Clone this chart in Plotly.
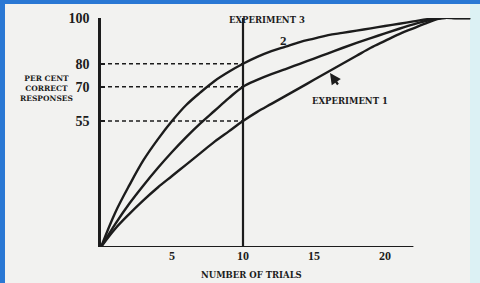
import plotly.graph_objects as go

# ---- data ----
trials = list(range(0, 27))
exp2 = [0, 15, 27, 38, 47, 55, 62, 67.5, 72.5, 76.5, 80, 83, 85.5, 87.5, 89.5, 91,
        92.5, 93.5, 94.5, 95.5, 96.5, 97.5, 98.5, 99.5, 100, 100, 100]
mid = [0, 10, 19, 27, 34.5, 41.5, 48, 54, 59.5, 65, 70, 73, 75.5, 77.7, 80, 82.3,
       84.6, 86.9, 89.1, 91.2, 93.3, 95.3, 97.2, 98.9, 100, 100, 100]
exp1 = [0, 8, 14.5, 20.5, 26, 31, 36, 41, 46, 50.5, 55, 59, 62.5, 66, 69.5, 73,
        76.5, 80, 83.5, 87, 90, 93, 95.5, 98, 100, 100, 100]

y_ticks = [55, 70, 80, 100]
x_ticks = [5, 10, 15, 20]
x_tick_text = ["5", "10", "15", "20"]
marker_trial = 10
ref_levels = [80, 70, 55]
x_axis_end = 22

INK = "#1c1c1c"
BG = "#f2f2f0"
SERIF = "Liberation Serif"
LABEL = "DejaVu Serif"

W, H = 480, 283
L, R, T, B = 101, 4, 18, 36
pw, ph = W - L - R, H - T - B


def px(xp):
    return (xp - L) / pw


def py(yp):
    return 1 - (yp - T) / ph


fig = go.Figure()
for ys in (exp2, mid, exp1):
    fig.add_trace(go.Scatter(
        x=trials, y=ys, mode="lines",
        line=dict(color=INK, width=2.4, shape="spline", smoothing=1.0),
        cliponaxis=False, hoverinfo="skip", showlegend=False))

shapes = []
# frame decorations
shapes.append(dict(type="rect", xref="paper", yref="paper", x0=px(470), x1=px(480),
                   y0=py(283), y1=py(0), fillcolor="#dcf1f4", line_width=0, layer="below"))
shapes.append(dict(type="rect", xref="paper", yref="paper", x0=px(0), x1=px(480),
                   y0=py(4), y1=py(0), fillcolor="#2a78d4", line_width=0, layer="above"))
shapes.append(dict(type="rect", xref="paper", yref="paper", x0=px(0), x1=px(5),
                   y0=py(283), y1=py(0), fillcolor="#2a78d4", line_width=0, layer="above"))
# x axis line
shapes.append(dict(type="line", xref="x", yref="y", x0=0, x1=x_axis_end, y0=0, y1=0,
                   line=dict(color=INK, width=2.2)))
# vertical line at trial 10
shapes.append(dict(type="line", xref="x", yref="y", x0=marker_trial, x1=marker_trial,
                   y0=0, y1=100, line=dict(color=INK, width=2.2)))
# dashed reference lines
for lv in ref_levels:
    shapes.append(dict(type="line", xref="x", yref="y", x0=0, x1=marker_trial, y0=lv, y1=lv,
                       line=dict(color=INK, width=1.6, dash="4px,3px")))

font_small = dict(family=LABEL, size=8.5, color=INK, weight="bold")
annotations = [
    dict(text="EXPERIMENT 3", xref="paper", yref="paper", x=px(267), y=py(20),
         showarrow=False, font=font_small, xanchor="center", yanchor="middle"),
    dict(text="2", xref="paper", yref="paper", x=px(283), y=py(40),
         showarrow=False, font=dict(family=SERIF, size=13, color=INK, weight="bold"),
         xanchor="center", yanchor="middle"),
    dict(text="EXPERIMENT 1", xref="paper", yref="paper", x=px(350), y=py(101),
         showarrow=False, font=font_small, xanchor="center", yanchor="middle"),
    dict(text="", xref="paper", yref="paper", x=px(330), y=py(73), ax=9, ay=13,
         showarrow=True, arrowhead=2, arrowsize=1, arrowwidth=2.2, arrowcolor=INK),
    dict(text="PER CENT<br>CORRECT<br>RESPONSES", xref="paper", yref="paper",
         x=px(46), y=py(89), showarrow=False,
         font=dict(family=LABEL, size=7.5, color=INK, weight="bold"),
         xanchor="center", yanchor="middle", align="center"),
    dict(text="NUMBER OF TRIALS", xref="paper", yref="paper", x=px(251), y=py(275),
         showarrow=False, font=font_small, xanchor="center", yanchor="middle"),
]

fig.update_layout(
    width=W, height=H,
    margin=dict(l=L, r=R, t=T, b=B),
    paper_bgcolor=BG, plot_bgcolor=BG,
    shapes=shapes, annotations=annotations,
    xaxis=dict(range=[0, pw / 14.2], showgrid=False, zeroline=False, showline=False,
               tickvals=x_ticks, ticktext=x_tick_text, ticks="",
               tickfont=dict(family=SERIF, size=12, color=INK, weight="bold")),
    yaxis=dict(range=[0, 100], showgrid=False, zeroline=False, showline=True,
               linecolor=INK, linewidth=2.6, tickvals=y_ticks, ticks="inside",
               ticklen=4, tickwidth=1.5, tickcolor=INK, ticklabelstandoff=6,
               tickfont=dict(family=SERIF, size=14, color=INK, weight="bold")),
)

fig.write_html("out.html", config={"displayModeBar": False},
               post_script="document.body.style.margin='0px';")
